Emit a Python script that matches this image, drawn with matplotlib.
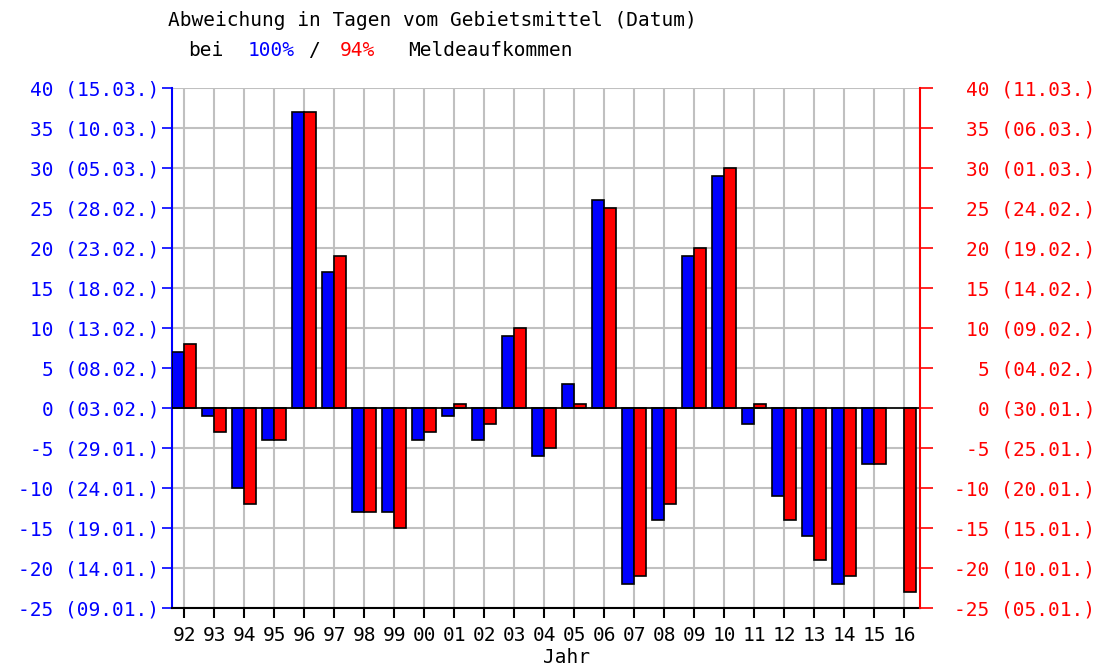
import numpy as np
import matplotlib
matplotlib.use('Agg')
import matplotlib.pyplot as plt

# years and deviation in days (blue = 100%, red = 94% Meldeaufkommen)
years = ['92', '93', '94', '95', '96', '97', '98', '99', '00', '01', '02', '03', '04',
         '05', '06', '07', '08', '09', '10', '11', '12', '13', '14', '15', '16']
dev_100 = [7, -1, -10, -4, 37, 17, -13, -13, -4, -1, -4, 9, -6,
           3, 26, -22, -14, 19, 29, -2, -11, -16, -22, -7, np.nan]
dev_94 = [8, -3, -12, -4, 37, 19, -13, -15, -3, 0.5, -2, 10, -5,
          0.5, 25, -21, -12, 20, 30, 0.5, -14, -19, -21, -7, -23]

yticks = [40, 35, 30, 25, 20, 15, 10, 5, 0, -5, -10, -15, -20, -25]
dates_left = ['15.03.', '10.03.', '05.03.', '28.02.', '23.02.', '18.02.', '13.02.',
              '08.02.', '03.02.', '29.01.', '24.01.', '19.01.', '14.01.', '09.01.']
dates_right = ['11.03.', '06.03.', '01.03.', '24.02.', '19.02.', '14.02.', '09.02.',
               '04.02.', '30.01.', '25.01.', '20.01.', '15.01.', '10.01.', '05.01.']

plt.rcParams['font.family'] = 'DejaVu Sans Mono'
fs = 14

fig = plt.figure(figsize=(10.99, 6.69), dpi=100)
W, H = 1099, 669
ax = fig.add_axes([172 / W, 1 - 608 / H, (920 - 172) / W, (608 - 88) / H])

x = np.arange(len(years))
ax.bar(x - 0.2, dev_100, width=0.4, color='#0000ff', edgecolor='black', linewidth=1.2, zorder=3)
ax.bar(x + 0.2, dev_94, width=0.4, color='#ff0000', edgecolor='black', linewidth=1.2, zorder=3)
ax.axhline(0, color='black', linewidth=1.2, zorder=4)

ax.set_xlim(-0.41, 24.53)
ax.set_ylim(-25, 40)
ax.set_xticks(x)
ax.set_xticklabels(years, fontsize=fs)
ax.set_yticks(yticks)
ax.set_yticklabels(['%d (%s)' % (v, d) for v, d in zip(yticks, dates_left)],
                   fontsize=fs, color='#0000ff')
ax.grid(True, color='#c0c0c0', linewidth=1.5, zorder=0)
ax.tick_params(axis='y', colors='#0000ff', length=7, width=1.2, pad=2)
ax.tick_params(axis='x', length=7, width=1.5, colors='black', pad=6)
ax.spines['left'].set_color('#0000ff')
ax.spines['left'].set_linewidth(1.5)
ax.spines['top'].set_visible(False)
ax.spines['right'].set_visible(False)
ax.spines['bottom'].set_linewidth(1.5)
ax.set_xlabel('Jahr', fontsize=fs)
ax.xaxis.set_label_coords((566 - 172) / 748, -40 / 520)

ax2 = ax.twinx()
ax2.set_ylim(-25, 40)
ax2.set_yticks(yticks)
ax2.set_yticklabels(['%d (%s)' % (v, d) for v, d in zip(yticks, dates_right)],
                    fontsize=fs, color='#ff0000')
ax2.tick_params(axis='y', colors='#ff0000', length=9, width=1.2, pad=117)
for lbl in ax2.get_yticklabels():
    lbl.set_horizontalalignment('right')
ax2.spines['right'].set_color('#ff0000')
ax2.spines['right'].set_linewidth(1.5)
for s in ['left', 'top', 'bottom']:
    ax2.spines[s].set_visible(False)

# title lines
fig.text(168 / W, 1 - 20 / H, 'Abweichung in Tagen vom Gebietsmittel (Datum)',
         fontsize=fs, va='center', ha='left')
fig.text(188 / W, 1 - 50 / H, 'bei', fontsize=fs, va='center', ha='left')
fig.text(248 / W, 1 - 50 / H, '100%', fontsize=fs, va='center', ha='left', color='#0000ff')
fig.text(308 / W, 1 - 50 / H, '/', fontsize=fs, va='center', ha='left')
fig.text(340 / W, 1 - 50 / H, '94%', fontsize=fs, va='center', ha='left', color='#ff0000')
fig.text(408 / W, 1 - 50 / H, 'Meldeaufkommen', fontsize=fs, va='center', ha='left')

fig.savefig('out.png', dpi=100)
